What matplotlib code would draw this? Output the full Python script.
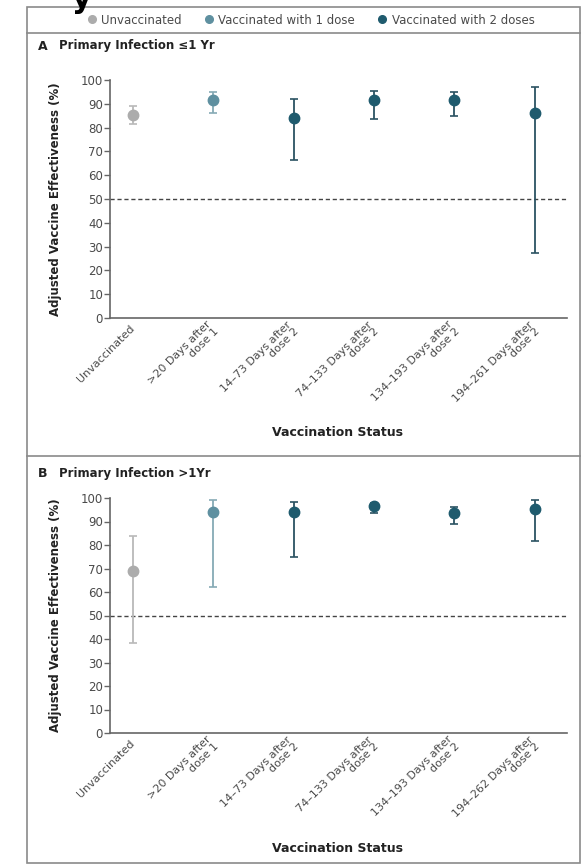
import matplotlib
matplotlib.use("Agg")
import matplotlib.pyplot as plt
from matplotlib.lines import Line2D
from matplotlib.patches import Rectangle
import numpy as np

plt.rcParams['font.family'] = ['Liberation Sans Narrow', 'DejaVu Sans']

# ---------------- data ----------------
labels_a = ["Unvaccinated", ">20 Days after\ndose 1", "14\u201373 Days after\ndose 2",
            "74\u2013133 Days after\ndose 2", "134\u2013193 Days after\ndose 2",
            "194\u2013261 Days after\ndose 2"]
labels_b = ["Unvaccinated", ">20 Days after\ndose 1", "14\u201373 Days after\ndose 2",
            "74\u2013133 Days after\ndose 2", "134\u2013193 Days after\ndose 2",
            "194\u2013262 Days after\ndose 2"]
groups = ["Unvaccinated", "Vaccinated with 1 dose", "Vaccinated with 2 doses",
          "Vaccinated with 2 doses", "Vaccinated with 2 doses", "Vaccinated with 2 doses"]

ve_a = [85.5, 91.5, 84.0, 91.5, 91.5, 86.0]
lo_a = [81.5, 86.0, 66.5, 83.5, 85.0, 27.5]
hi_a = [89.0, 95.0, 92.0, 95.5, 95.0, 97.0]

ve_b = [69.0, 94.0, 94.0, 96.5, 93.5, 95.5]
lo_b = [38.5, 62.0, 75.0, 93.5, 89.0, 81.5]
hi_b = [84.0, 99.0, 98.5, 98.0, 96.0, 99.0]

yticks = [0, 10, 20, 30, 40, 50, 60, 70, 80, 90, 100]

# ---------------- styles ----------------
marker_col = {"Unvaccinated": "#acacac", "Vaccinated with 1 dose": "#5f90a0",
              "Vaccinated with 2 doses": "#1f5b6e"}
bar_col = {"Unvaccinated": "#b9b9b9", "Vaccinated with 1 dose": "#86aab5",
           "Vaccinated with 2 doses": "#2b5362"}
txt_grey = "#4a4a4a"
frame_col = "#8a8a8a"

W, H = 588, 865
fig = plt.figure(figsize=(W / 100, H / 100), dpi=100)


def fx(px):
    return px / W


def fy(py):
    return 1 - py / H


# outer frame and separators
fig.add_artist(Rectangle((fx(27), fy(863)), fx(580) - fx(27), fy(7) - fy(863),
                         transform=fig.transFigure, fill=False, edgecolor=frame_col, lw=1.2))
for yy in (33, 456):
    fig.add_artist(Line2D([fx(27), fx(580)], [fy(yy), fy(yy)], transform=fig.transFigure,
                          color=frame_col, lw=1.2))

# cropped title fragment at the very top
fig.text(fx(72), fy(8), "y", fontsize=22, fontweight="bold", color="black",
         ha="left", va="baseline", family=["DejaVu Sans"])

# legend
handles = [Line2D([], [], marker="o", ls="none", color=marker_col[g], markersize=5.5)
           for g in ["Unvaccinated", "Vaccinated with 1 dose", "Vaccinated with 2 doses"]]
leg = fig.legend(handles, ["Unvaccinated", "Vaccinated with 1 dose", "Vaccinated with 2 doses"],
                 loc="center", bbox_to_anchor=(fx(310), fy(20)), ncol=3, frameon=False,
                 fontsize=8.5, handletextpad=0.3, columnspacing=1.8, handlelength=1.0)
for t in leg.get_texts():
    t.set_color(txt_grey)


def panel(top_px, bottom_px, letter, title, labels, ve, lo, hi, title_y, xlabel_y):
    ax = fig.add_axes([fx(110), fy(bottom_px), fx(567) - fx(110), fy(top_px) - fy(bottom_px)])
    x = np.arange(len(ve))
    for i in range(len(ve)):
        g = groups[i]
        ax.errorbar(x[i], ve[i], yerr=[[ve[i] - lo[i]], [hi[i] - ve[i]]], fmt="none",
                    ecolor=bar_col[g], elinewidth=1.3, capsize=3, capthick=1.2, clip_on=False,
                    zorder=2)
        ax.plot(x[i], ve[i], "o", color=marker_col[g], markersize=7.5, clip_on=False, zorder=3)
    ax.axhline(50, color="#444444", lw=1.0, ls=(0, (3, 2)), zorder=1)
    ax.set_xlim(-0.285, 5.4)
    ax.set_ylim(0, 100)
    ax.set_yticks(yticks)
    ax.set_yticklabels([str(v) for v in yticks])
    ax.set_xticks(x)
    ax.set_xticklabels(labels, rotation=45, ha="right", va="center", rotation_mode="anchor",
                       multialignment="right", linespacing=1.0)
    ax.tick_params(axis="y", length=4, width=1, color="#666666", labelsize=8.5,
                   labelcolor=txt_grey, pad=1)
    ax.tick_params(axis="x", length=0, labelsize=8, labelcolor=txt_grey, pad=6)
    for s in ("top", "right"):
        ax.spines[s].set_visible(False)
    for s in ("left", "bottom"):
        ax.spines[s].set_color("#666666")
        ax.spines[s].set_linewidth(1.2)
    ax.set_facecolor("none")
    fig.text(fx(38), fy(title_y), letter, fontsize=9, fontweight="bold", color="#222222",
             ha="left", va="center")
    fig.text(fx(59), fy(title_y), title, fontsize=8.5, fontweight="bold", color="#222222",
             ha="left", va="center")
    fig.text(fx(55), (fy(top_px) + fy(bottom_px)) / 2, "Adjusted Vaccine Effectiveness (%)",
             rotation=90, fontsize=8.5, fontweight="bold", color="#222222",
             ha="center", va="center")
    fig.text(fx(338), fy(xlabel_y), "Vaccination Status", fontsize=9, fontweight="bold",
             color="#222222", ha="center", va="center")
    return ax


panel(80, 318, "A", "Primary Infection \u22641 Yr", labels_a, ve_a, lo_a, hi_a, 46, 432)
panel(498, 733, "B", "Primary Infection >1Yr", labels_b, ve_b, lo_b, hi_b, 474, 848)

fig.savefig("out.png", dpi=100, facecolor="white")
